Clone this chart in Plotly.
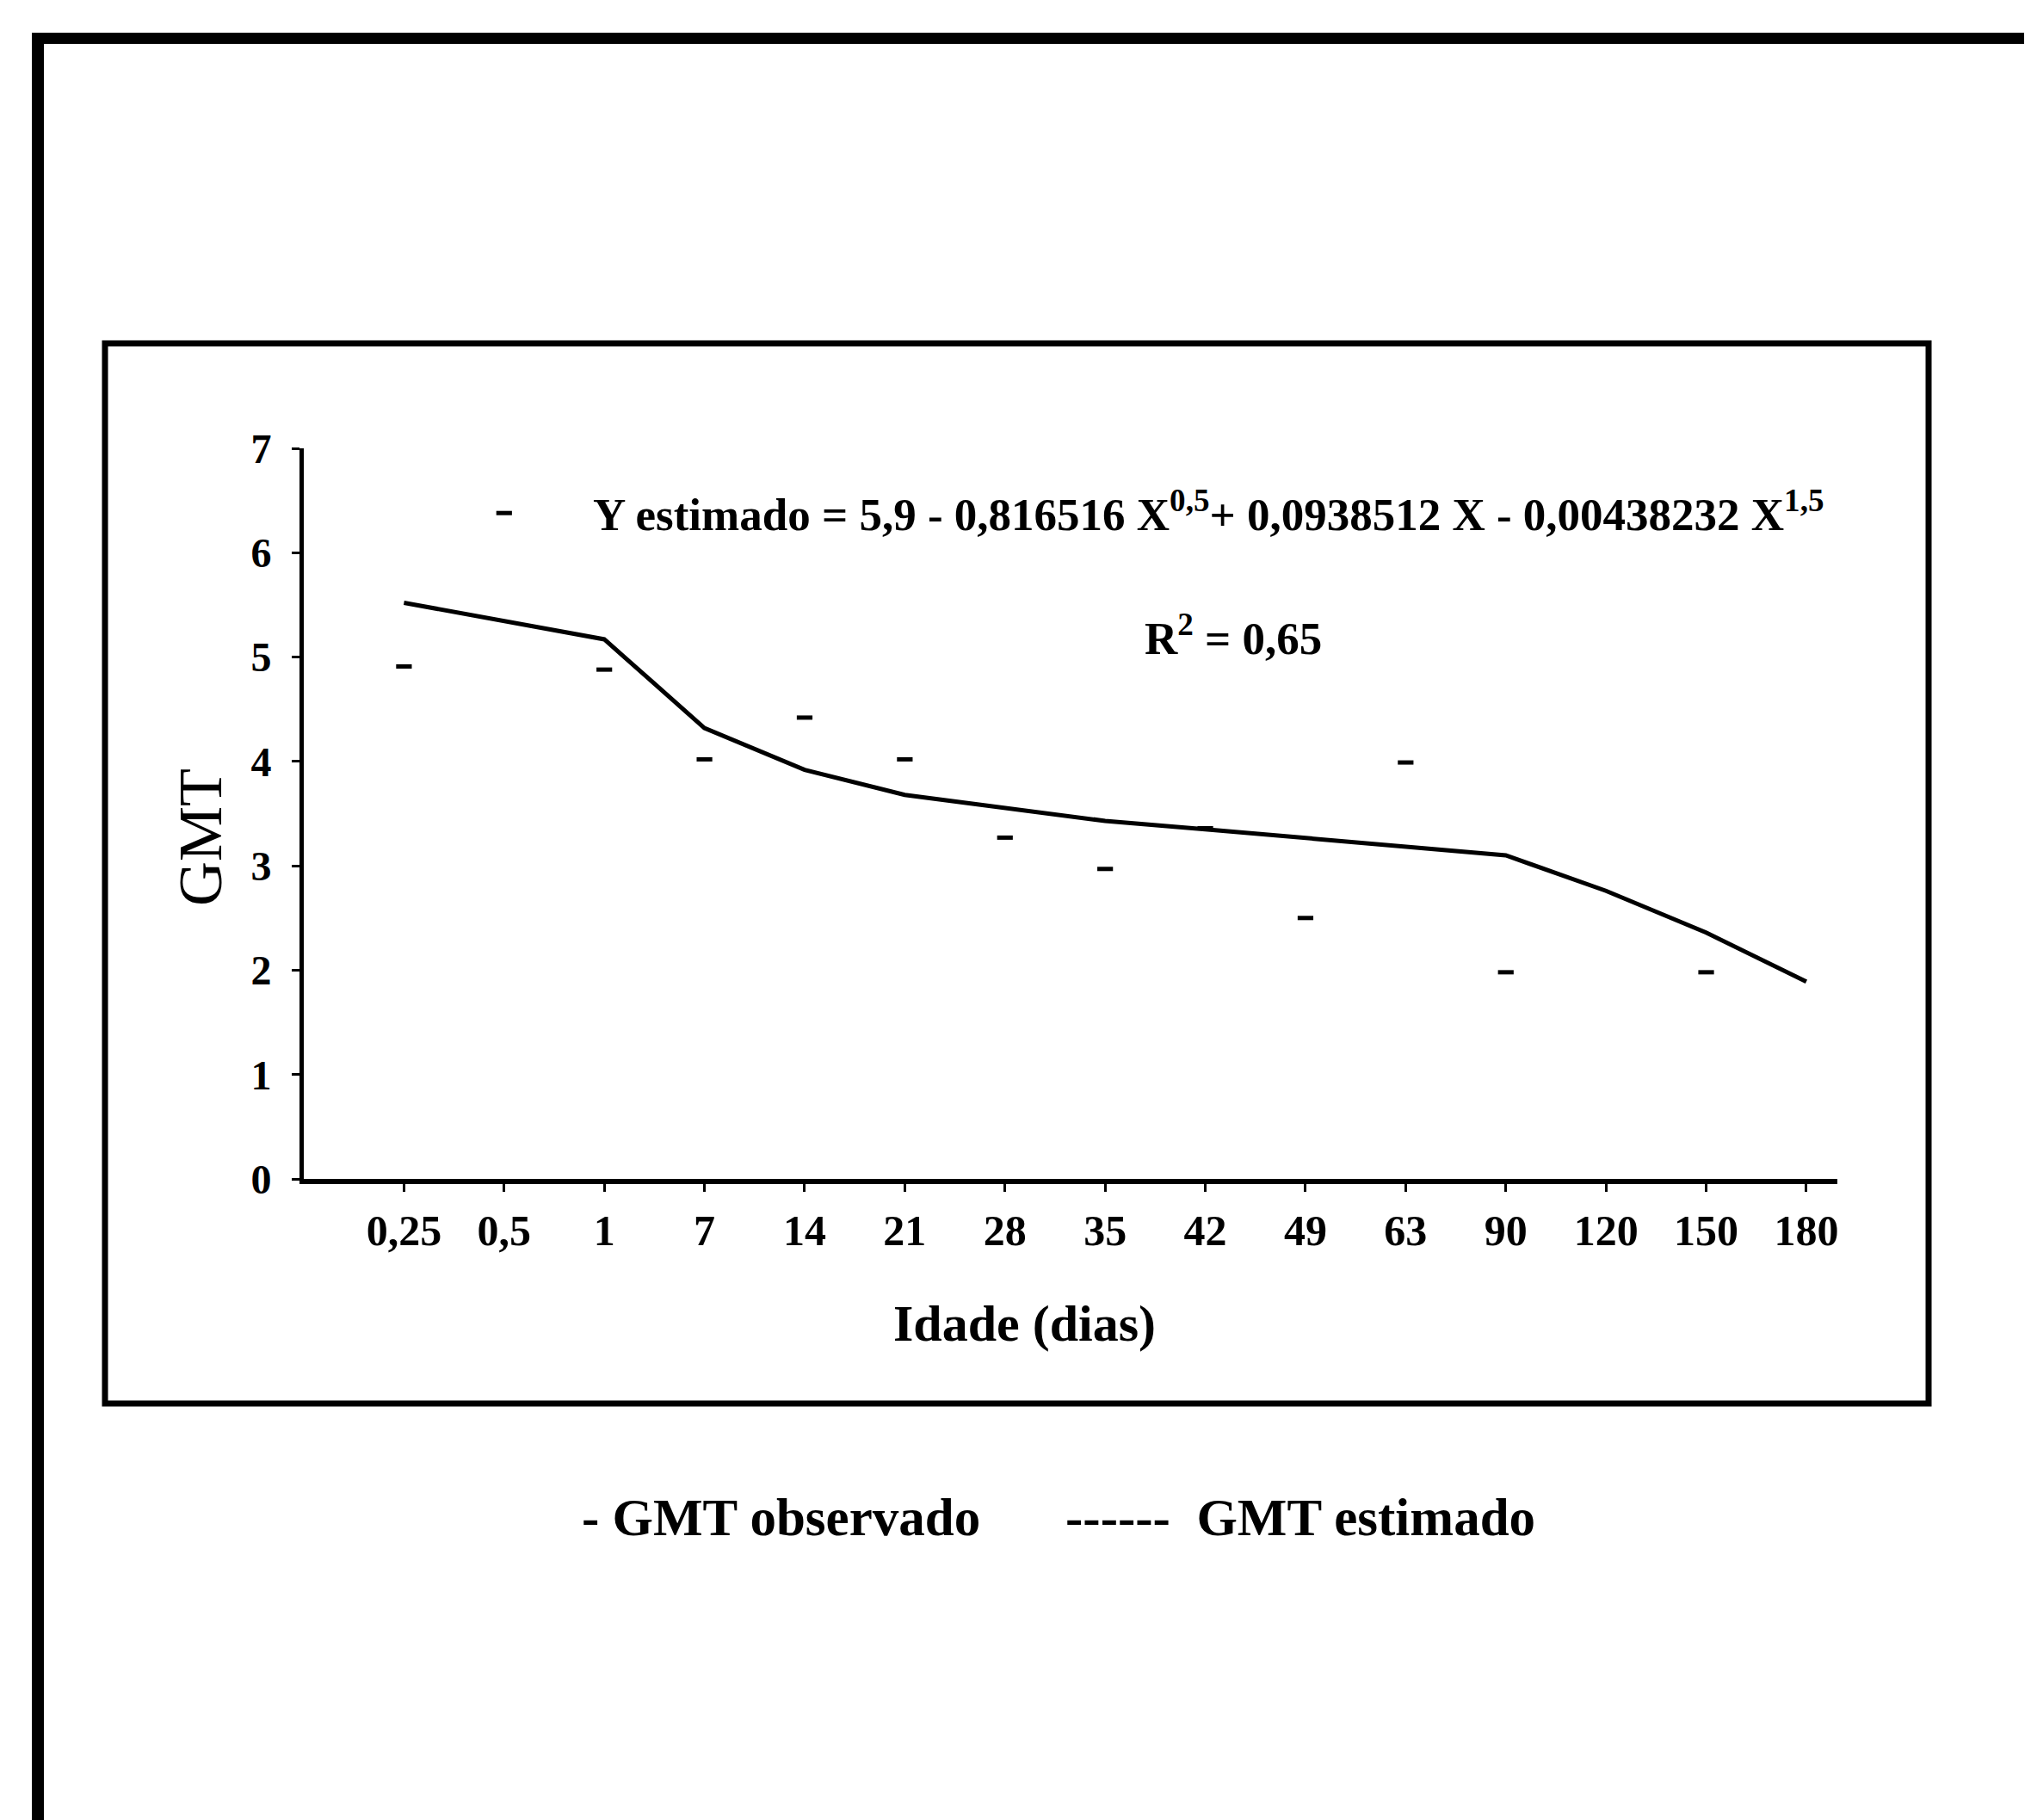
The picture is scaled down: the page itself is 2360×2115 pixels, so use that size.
import plotly.graph_objects as go

# ---- data ----
idade = ["0,25", "0,5", "1", "7", "14", "21", "28", "35", "42", "49", "63", "90", "120", "150", "180"]
gmt_observado = [4.91, 6.38, 4.88, 4.02, 4.42, 4.02, 3.27, 2.97, 3.36, 2.50, 3.99, 1.98, None, 1.98, None]
gmt_estimado = [5.52, 5.34, 5.17, 4.32, 3.92, 3.68, 3.55, 3.43, 3.35, 3.27, 3.18, 3.10, 2.76, 2.36, 1.89]
y_ticks = [0, 1, 2, 3, 4, 5, 6, 7]

W, H = 2360, 2115
L, T, R, B = 345, 513, 233, 753
PW, PH = W - L - R, H - T - B

def px(x):
    return (x - L) / PW

def py(y):
    return 1 - (y - T) / PH

SERIF = "Liberation Serif, Times New Roman, serif"

fig = go.Figure()
fig.add_trace(go.Scatter(
    x=idade, y=gmt_estimado, mode="lines", name="GMT estimado",
    line=dict(color="black", width=5), showlegend=False, cliponaxis=False))
fig.add_trace(go.Scatter(
    x=idade, y=gmt_observado, mode="markers", name="GMT observado",
    marker=dict(symbol="line-ew", size=13, color="black",
                line=dict(color="black", width=5)),
    showlegend=False, cliponaxis=False))

shapes = []
# outer frame (top + left, runs off the page to right and bottom)
shapes.append(dict(type="line", xref="paper", yref="paper",
                   x0=px(29), x1=px(2360), y0=py(36.5), y1=py(36.5),
                   line=dict(color="black", width=13)))
shapes.append(dict(type="line", xref="paper", yref="paper",
                   x0=px(36), x1=px(36), y0=py(30), y1=py(2115),
                   line=dict(color="black", width=14)))
# inner frame
shapes.append(dict(type="rect", xref="paper", yref="paper",
                   x0=px(114), x1=px(2233), y0=py(391), y1=py(1623),
                   line=dict(color="black", width=7), fillcolor="rgba(0,0,0,0)",
                   layer="below"))

annotations = [
    dict(text="Y estimado = 5,9 - 0,816516 X<sup>0,5</sup>+ 0,0938512 X - 0,00438232 X<sup>1,5</sup>",
         x=px(1396), y=py(586), xref="paper", yref="paper", showarrow=False,
         xanchor="center", yanchor="middle",
         font=dict(family=SERIF, size=53, color="black", weight="bold")),
    dict(text="R<sup>2</sup> = 0,65",
         x=px(1425), y=py(730), xref="paper", yref="paper", showarrow=False,
         xanchor="center", yanchor="middle",
         font=dict(family=SERIF, size=53, color="black", weight="bold")),
    dict(text="Idade (dias)",
         x=px(1182), y=py(1530), xref="paper", yref="paper", showarrow=False,
         xanchor="center", yanchor="middle",
         font=dict(family=SERIF, size=60, color="black", weight="bold")),
    dict(text="GMT",
         x=px(225), y=py(965), xref="paper", yref="paper", showarrow=False,
         xanchor="center", yanchor="middle", textangle=-90,
         font=dict(family=SERIF, size=72, color="black")),
    dict(text="- GMT observado",
         x=px(666), y=py(1755), xref="paper", yref="paper", showarrow=False,
         xanchor="left", yanchor="middle",
         font=dict(family=SERIF, size=61, color="black", weight="bold")),
    dict(text="------&nbsp;&nbsp;GMT estimado",
         x=px(1228), y=py(1755), xref="paper", yref="paper", showarrow=False,
         xanchor="left", yanchor="middle",
         font=dict(family=SERIF, size=61, color="black", weight="bold")),
]

fig.update_layout(
    width=W, height=H,
    margin=dict(l=L, r=R, t=T, b=B, autoexpand=False),
    paper_bgcolor="white", plot_bgcolor="white",
    shapes=shapes, annotations=annotations,
    xaxis=dict(type="category", range=[-1.0, 14.31], showgrid=False, zeroline=False,
               showline=True, linecolor="black", linewidth=6,
               ticks="outside", ticklen=9, tickwidth=3, tickcolor="black",
               ticklabelstandoff=2,
               tickfont=dict(family=SERIF, size=50, color="black", weight="bold")),
    yaxis=dict(range=[0, 7], tickvals=y_ticks, showgrid=False, zeroline=False,
               showline=True, linecolor="black", linewidth=5,
               ticks="outside", ticklen=9, tickwidth=3, tickcolor="black",
               ticklabelstandoff=14,
               tickfont=dict(family=SERIF, size=48, color="black", weight="bold")),
)

fig.write_html("out.html")
